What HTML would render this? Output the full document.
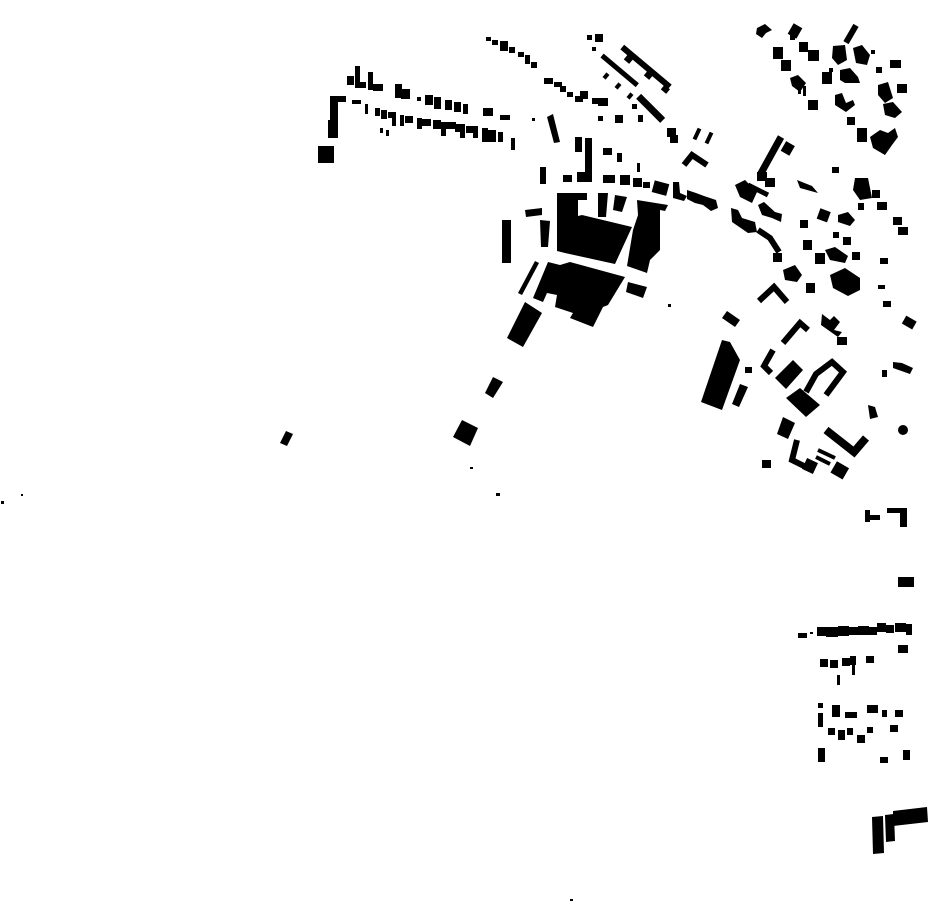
<!DOCTYPE html>
<html><head><meta charset="utf-8"><style>html,body{margin:0;padding:0;background:#fff}svg{display:block}</style></head>
<body>
<svg width="930" height="924" viewBox="0 0 930 924" xmlns="http://www.w3.org/2000/svg">
<g fill="#000" stroke="none">
<!-- NW top row -->
<rect x="347" y="76" width="7" height="9"/><rect x="355" y="66" width="5" height="22"/><rect x="360" y="82" width="6" height="6"/>
<rect x="368" y="72" width="5" height="18"/><rect x="373" y="84" width="10" height="7"/>
<rect x="395" y="84" width="7" height="14"/><rect x="401" y="89" width="9" height="10"/>
<rect x="417" y="97" width="4" height="4"/><rect x="425" y="95" width="8" height="10"/><rect x="434" y="97" width="7" height="12"/>
<rect x="445" y="100" width="7" height="10"/><rect x="454" y="102" width="7" height="10"/><rect x="463" y="104" width="5" height="10"/>
<rect x="483" y="108" width="10" height="8"/><rect x="500" y="115" width="10" height="5"/>
<!-- NW second row -->
<rect x="330" y="98" width="8" height="40"/><rect x="330" y="96" width="16" height="6"/><rect x="328" y="120" width="10" height="18"/>
<rect x="318" y="146" width="16" height="17"/>
<rect x="352" y="100" width="9" height="4"/><rect x="365" y="104" width="3" height="10"/><rect x="375" y="108" width="5" height="8"/>
<rect x="381" y="110" width="6" height="9"/><rect x="388" y="112" width="7" height="6"/><rect x="392" y="112" width="4" height="14"/>
<rect x="400" y="115" width="4" height="11"/><rect x="405" y="116" width="8" height="7"/><rect x="417" y="118" width="5" height="11"/>
<rect x="422" y="119" width="9" height="7"/><rect x="433" y="120" width="8" height="9"/><rect x="438" y="122" width="18" height="7"/>
<rect x="441" y="122" width="5" height="14"/><rect x="455" y="124" width="10" height="8"/><rect x="460" y="124" width="5" height="14"/>
<rect x="466" y="126" width="12" height="7"/><rect x="473" y="126" width="5" height="12"/><rect x="482" y="128" width="6" height="14"/>
<rect x="488" y="130" width="8" height="12"/><rect x="498" y="132" width="5" height="10"/><rect x="511" y="138" width="4" height="12"/>
<rect x="380" y="128" width="3" height="5"/><rect x="386" y="130" width="3" height="6"/>
<!-- NE row from 487,38 -->
<rect x="486" y="37" width="5" height="4"/><rect x="492" y="40" width="6" height="5"/><rect x="500" y="41" width="8" height="10"/>
<rect x="509" y="47" width="6" height="6"/><rect x="518" y="52" width="6" height="5"/><rect x="525" y="55" width="5" height="9"/>
<rect x="531" y="62" width="6" height="6"/><rect x="544" y="78" width="9" height="6"/><rect x="554" y="82" width="8" height="5"/>
<rect x="560" y="86" width="6" height="6"/><rect x="567" y="92" width="6" height="5"/><rect x="575" y="96" width="8" height="6"/>
<rect x="598" y="116" width="5" height="5"/><rect x="532" y="118" width="3" height="3"/>
<!-- diagonal strips -->
<rect x="615" y="64" width="62" height="6" transform="rotate(40 646 67)"/>
<rect x="625" y="56" width="7" height="6" transform="rotate(40 628 59)"/><rect x="645" y="72" width="7" height="6" transform="rotate(40 648 75)"/><rect x="662" y="86" width="7" height="6" transform="rotate(40 665 89)"/>
<rect x="597" y="68" width="46" height="5" transform="rotate(40 620 70)"/>
<rect x="604" y="73" width="4" height="6" transform="rotate(40 606 76)"/><rect x="616" y="83" width="4" height="6" transform="rotate(40 618 86)"/><rect x="628" y="93" width="4" height="6" transform="rotate(40 630 96)"/>
<rect x="634" y="105" width="34" height="7" transform="rotate(45 651 108)"/>
<rect x="587" y="35" width="5" height="5"/><rect x="595" y="34" width="8" height="8"/><rect x="592" y="47" width="4" height="4"/>
<rect x="667" y="128" width="9" height="9"/><rect x="670" y="135" width="8" height="8"/>
<rect x="580" y="91" width="8" height="8"/><rect x="592" y="98" width="6" height="6"/><rect x="598" y="98" width="10" height="8"/>
<rect x="615" y="115" width="8" height="8"/><rect x="638" y="115" width="5" height="7"/><rect x="632" y="104" width="5" height="5"/>
<rect x="695" y="128" width="4" height="12" transform="rotate(25 697 134)"/><rect x="707" y="132" width="4" height="12" transform="rotate(25 709 138)"/>
<!-- central cluster -->
<polygon points="547,117,553,114,560,142,554,143"/>
<rect x="575" y="137" width="7" height="15"/><rect x="585" y="138" width="7" height="34"/><rect x="577" y="172" width="15" height="10"/>
<rect x="563" y="175" width="9" height="7"/><rect x="603" y="148" width="9" height="7"/><rect x="617" y="153" width="5" height="9"/>
<rect x="637" y="163" width="3" height="9"/><rect x="540" y="167" width="6" height="17"/>
<rect x="603" y="175" width="12" height="8"/><rect x="620" y="175" width="10" height="10"/><rect x="633" y="178" width="9" height="9"/>
<rect x="643" y="182" width="7" height="6"/><rect x="653" y="182" width="15" height="12" transform="rotate(15 660 188)"/>
<polygon points="673,182,679,182,680,193,687,196,684,201,673,198"/>
<polygon points="687,190,696,193,704,196,716,200,718,208,711,211,703,205,695,203,687,199"/>
<polyline points="684,165,692,155,707,165" fill="none" stroke="#000" stroke-width="6"/>
<!-- big blocks -->
<polygon points="557,193,587,193,587,200,578,200,578,216,582,215,632,227,615,264,565,253,557,251"/>
<polygon points="598,193,608,193,606,217,598,217"/>
<polygon points="615,195,627,197,622,212,613,210"/>
<polygon points="637,200,668,205,665,211,660,210,660,250,650,260,647,273,627,266,633,230,638,215"/>
<polygon points="548,262,560,265,570,262,625,277,608,305,603,307,593,327,570,318,573,313,555,307,557,295,547,293,543,302,533,298"/>
<polygon points="628,282,647,287,643,298,626,292"/>
<rect x="502" y="220" width="9" height="43"/>
<polygon points="525,210,542,208,542,215,526,217"/>
<polygon points="540,220,550,221,548,247,541,247"/>
<polygon points="535,261,539,263,522,295,518,293"/>
<polygon points="525,302,542,313,523,347,507,338"/>
<polygon points="493,377,503,382,493,398,485,393"/>
<polygon points="462,420,478,428,470,446,453,437"/>
<polygon points="286,431,293,434,287,446,280,443"/>
<rect x="668" y="304" width="3" height="3"/><rect x="470" y="467" width="3" height="2"/><rect x="496" y="493" width="4" height="3"/>
<rect x="1" y="501" width="3" height="3"/><rect x="21" y="494" width="2" height="2"/><rect x="570" y="899" width="3" height="2"/>
<!-- east middle -->
<polyline points="781,137,760,175" fill="none" stroke="#000" stroke-width="7"/>
<rect x="783" y="143" width="10" height="11" transform="rotate(30 788 148)"/>
<rect x="757" y="172" width="10" height="9"/><rect x="765" y="178" width="10" height="9"/>
<polygon points="735,185,745,180,757,192,752,203,740,197"/>
<polyline points="748,185,768,195" fill="none" stroke="#000" stroke-width="5"/>
<polygon points="758,205,764,202,775,212,782,214,781,222,772,218,762,215"/>
<polygon points="731,208,738,210,742,218,755,222,757,232,748,233,732,222"/>
<polyline points="758,230,770,238,779,252" fill="none" stroke="#000" stroke-width="6"/>
<rect x="773" y="253" width="9" height="9"/>
<polygon points="797,180,812,186,818,193,800,188"/>
<rect x="818" y="210" width="11" height="11" transform="rotate(20 824 216)"/>
<rect x="800" y="220" width="8" height="8"/><rect x="832" y="167" width="7" height="6"/>
<polygon points="838,215,848,212,855,220,850,226,838,222"/>
<rect x="803" y="240" width="9" height="10"/><rect x="815" y="253" width="10" height="11"/>
<polygon points="825,250,835,247,848,256,845,263,830,260"/>
<rect x="833" y="232" width="6" height="6"/><rect x="843" y="237" width="8" height="8"/><rect x="852" y="252" width="8" height="8"/>
<polygon points="830,275,845,268,860,278,860,290,848,296,833,288"/>
<polygon points="783,270,795,265,802,275,797,282,785,280"/>
<polygon points="855,178,868,178,872,198,860,200,853,190"/>
<rect x="872" y="190" width="8" height="8"/><rect x="877" y="202" width="10" height="8"/><rect x="858" y="203" width="6" height="7"/>
<rect x="893" y="217" width="9" height="8"/><rect x="898" y="227" width="10" height="8"/><rect x="880" y="258" width="8" height="6"/>
<!-- NE cluster -->
<polygon points="757,28,765,24,772,30,766,33,762,38,756,34"/>
<rect x="790" y="25" width="10" height="12" transform="rotate(30 795 31)"/><rect x="790" y="35" width="5" height="5"/>
<rect x="799" y="42" width="9" height="10"/><rect x="808" y="50" width="11" height="11"/>
<rect x="773" y="47" width="10" height="12"/><rect x="781" y="60" width="10" height="11"/>
<polygon points="790,78,798,75,806,83,800,92,792,86"/><rect x="798" y="84" width="3" height="10"/><rect x="803" y="86" width="3" height="10"/>
<rect x="808" y="100" width="10" height="10"/>
<rect x="848" y="24" width="6" height="20" transform="rotate(30 851 34)"/>
<polygon points="833,46,845,45,847,60,838,65,832,58"/>
<polygon points="853,48,862,45,870,55,867,65,856,63"/><rect x="871" y="50" width="4" height="4"/>
<rect x="822" y="72" width="10" height="12"/>
<polygon points="840,70,850,68,858,77,860,83,845,83,840,80"/>
<polygon points="835,95,842,93,846,103,853,100,855,105,846,112,835,105"/>
<rect x="847" y="117" width="8" height="8"/><rect x="857" y="128" width="10" height="14"/>
<polygon points="870,137,880,130,888,133,895,128,898,137,892,145,885,155,873,148"/>
<rect x="890" y="60" width="11" height="8"/><rect x="876" y="67" width="6" height="6"/><rect x="897" y="84" width="10" height="9"/>
<polygon points="878,85,888,82,893,98,885,103,878,95"/><polygon points="883,104,893,102,902,112,895,118,885,115"/>
<rect x="829" y="68" width="4" height="4"/>
<!-- curve & misc east -->
<polygon points="806,283,815,283,815,293,806,293"/>
<polyline points="759,301,774,287,787,302" fill="none" stroke="#000" stroke-width="6"/>
<polygon points="727,311,740,320,735,327,722,318"/>
<polyline points="783,343,800,323,808,330" fill="none" stroke="#000" stroke-width="6"/>
<polygon points="822,314,830,320,834,316,840,322,834,330,842,332,838,337,821,325"/>
<rect x="837" y="337" width="10" height="8"/>
<polyline points="773,350,764,366,771,373" fill="none" stroke="#000" stroke-width="6"/>
<rect x="745" y="367" width="7" height="6"/>
<polygon points="793,360,803,370,786,389,775,378"/>
<polygon points="722,340,730,342,740,360,722,410,701,402"/>
<polygon points="740,384,748,387,739,407,732,404"/>
<polyline points="806,392,816,374,832,362,843,372,826,395" fill="none" stroke="#000" stroke-width="6"/>
<polygon points="786,398,800,388,820,405,806,417"/>
<polygon points="783,417,795,423,788,439,777,434"/>
<polyline points="797,440,792,460,804,466" fill="none" stroke="#000" stroke-width="6"/>
<rect x="804" y="460" width="12" height="12" transform="rotate(25 810 466)"/>
<rect x="762" y="460" width="9" height="8"/>
<polyline points="818,450,835,458" fill="none" stroke="#000" stroke-width="4"/>
<polyline points="816,457,830,464" fill="none" stroke="#000" stroke-width="4"/>
<polyline points="826,430,854,452,866,438" fill="none" stroke="#000" stroke-width="8"/>
<rect x="833" y="464" width="14" height="13" transform="rotate(30 840 470)"/>
<polygon points="868,405,875,407,878,417,870,419"/>
<circle cx="903" cy="430" r="5"/>
<rect x="882" y="370" width="5" height="7"/><polygon points="893,362,902,363,913,368,910,374,893,368"/>
<rect x="903" y="318" width="12" height="9" transform="rotate(30 909 323)"/>
<rect x="883" y="301" width="8" height="6"/><rect x="878" y="285" width="7" height="4"/>
<!-- south east -->
<rect x="865" y="510" width="5" height="12"/><rect x="865" y="515" width="15" height="5"/>
<rect x="887" y="508" width="18" height="5"/><rect x="900" y="508" width="7" height="19"/>
<rect x="898" y="577" width="16" height="10"/>
<rect x="798" y="633" width="9" height="5"/><rect x="810" y="632" width="3" height="2"/><rect x="817" y="627" width="10" height="9"/>
<rect x="826" y="627" width="12" height="10"/><rect x="838" y="626" width="11" height="10"/><rect x="849" y="627" width="10" height="8"/>
<rect x="858" y="626" width="11" height="9"/><rect x="869" y="627" width="8" height="8"/><rect x="877" y="623" width="9" height="9"/>
<rect x="886" y="625" width="8" height="8"/><rect x="895" y="623" width="11" height="9"/><rect x="906" y="624" width="6" height="11"/>
<rect x="898" y="645" width="10" height="8"/>
<rect x="820" y="659" width="8" height="8"/><rect x="830" y="660" width="8" height="8"/><rect x="842" y="658" width="8" height="8"/>
<rect x="850" y="656" width="6" height="9"/><rect x="866" y="656" width="8" height="7"/>
<rect x="837" y="675" width="3" height="10"/><rect x="852" y="665" width="3" height="10"/>
<rect x="818" y="703" width="5" height="5"/><rect x="818" y="713" width="5" height="14"/>
<rect x="832" y="705" width="8" height="12"/><rect x="845" y="712" width="12" height="6"/><rect x="867" y="705" width="11" height="8"/>
<rect x="882" y="710" width="5" height="7"/><rect x="895" y="710" width="8" height="7"/>
<rect x="828" y="728" width="7" height="7"/><rect x="838" y="730" width="7" height="10"/><rect x="847" y="728" width="6" height="7"/>
<rect x="857" y="735" width="8" height="8"/><rect x="867" y="727" width="6" height="6"/><rect x="890" y="725" width="8" height="7"/>
<rect x="818" y="748" width="7" height="14"/><rect x="880" y="757" width="8" height="6"/><rect x="903" y="750" width="7" height="10"/>
<polygon points="872,817,883,816,884,853,873,854"/>
<polygon points="885,815,894,814,895,841,886,842"/>
<polygon points="893,811,927,807,928,822,893,826"/>
</g>
</svg>
</body></html>
